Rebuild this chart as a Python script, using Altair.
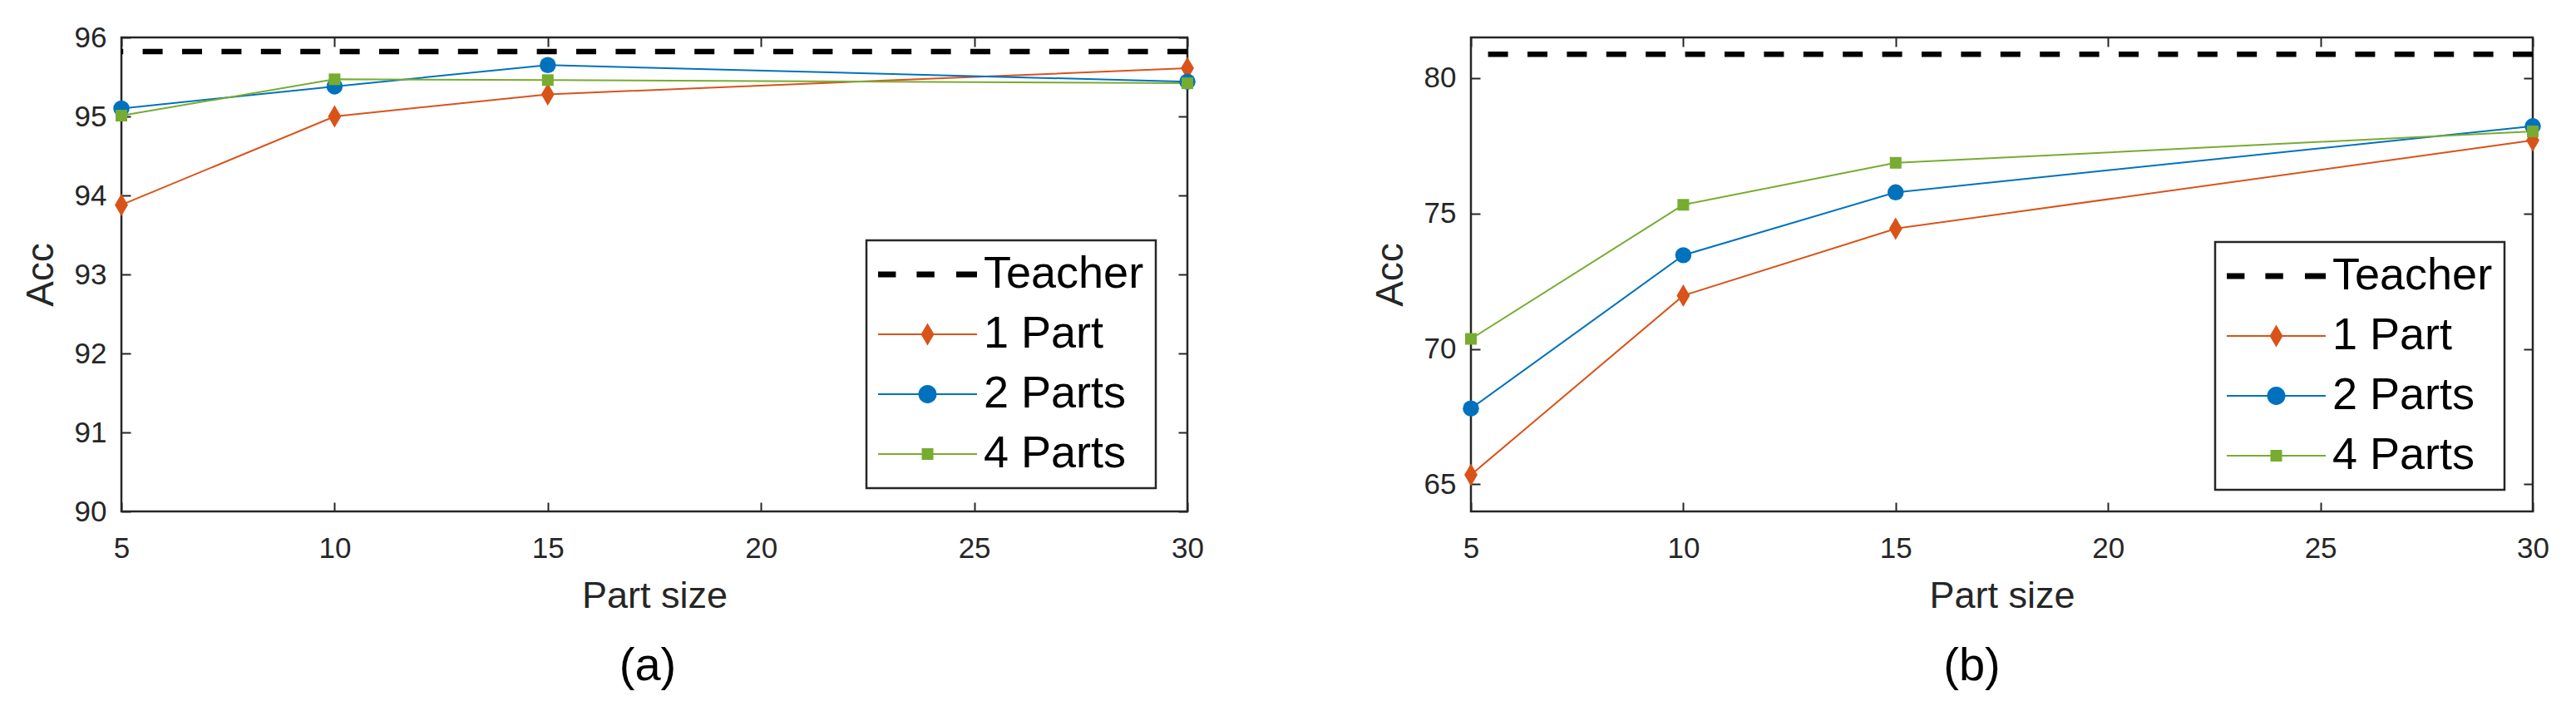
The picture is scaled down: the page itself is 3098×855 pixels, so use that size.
import altair as alt
import pandas as pd

# ---------------- data ----------------
part_sizes = [5, 10, 15, 30]
series_names = ["Teacher", "1 Part", "2 Parts", "4 Parts"]
series_colors = ["#000000", "#D95319", "#0072BD", "#77AC30"]
x_ticks = [5, 10, 15, 20, 25, 30]

a_teacher = 95.82
a_one = [93.88, 95.00, 95.28, 95.61]
a_two = [95.10, 95.38, 95.65, 95.44]
a_four = [95.01, 95.47, 95.46, 95.42]
a_y_domain = [90, 96]
a_y_ticks = [90, 91, 92, 93, 94, 95, 96]

b_teacher = 80.88
b_one = [65.35, 71.97, 74.44, 77.70]
b_two = [67.80, 73.46, 75.78, 78.22]
b_four = [70.37, 75.32, 76.87, 78.03]
b_y_domain = [64, 81.5]
b_y_ticks = [65, 70, 75, 80]

# ---------------- style ----------------
FONT = "Liberation Sans"
GRAY = "#262626"

DIAMOND = "M0,-1L0.59,0L0,1L-0.59,0Z"
# legend glyphs: unit = 27 px (symbol size 54^2); line drawn wider than the
# nominal symbol box, marker centred on the line
LINE = "M-1,-0.037H3.407V0.037H-1Z"
legend_shapes = [
    "M-1,-0.13H-0.207V0.13H-1Z M0.719,-0.13H1.511V0.13H0.719Z M2.481,-0.13H3.407V0.13H2.481Z",
    LINE + " M1.204,-0.5L1.5,0L1.204,0.5L0.908,0Z",
    LINE + " M1.611,0A0.407,0.407,0,1,1,0.797,0A0.407,0.407,0,1,1,1.611,0Z",
    LINE + " M0.945,-0.259H1.463V0.259H0.945Z",
]


def tick_axis(values, orient, offset):
    return alt.Axis(values=values, orient=orient, offset=offset, labels=False,
                    domain=False, grid=False, ticks=True, tickSize=11,
                    tickWidth=2, tickColor=GRAY, title=None)


def panel(teacher, one, two, four, y_domain, y_ticks, W, H, leg_x, leg_y,
          caption, cap_dx):
    rows = []
    for name, vals in zip(series_names[1:], [one, two, four]):
        for s, v in zip(part_sizes, vals):
            rows.append({"series": name, "size": s, "acc": v})
    df = pd.DataFrame(rows)
    tdf = pd.DataFrame({"series": ["Teacher"], "acc": [teacher]})
    ldf = pd.DataFrame({"series": series_names})

    xs = alt.Scale(domain=[5, 30], nice=False, zero=False)
    ys = alt.Scale(domain=y_domain, nice=False, zero=False)
    cs = alt.Scale(domain=series_names, range=series_colors)

    main_x = alt.Axis(values=x_ticks, orient="bottom", ticks=False, tickSize=0,
                      domain=False, grid=False, labelFontSize=35, labelFont=FONT,
                      labelColor=GRAY, labelPadding=27, labelFlush=False,
                      labelOverlap=False, title="Part size", titleFont=FONT,
                      titleFontSize=45, titleFontWeight="normal",
                      titleColor=GRAY, titlePadding=17)
    main_y = alt.Axis(values=y_ticks, orient="left", ticks=False, tickSize=0,
                      domain=False, grid=False, labelFontSize=35, labelFont=FONT,
                      labelColor=GRAY, labelPadding=18, labelFlush=False,
                      labelOverlap=False, title="Acc", titleFont=FONT,
                      titleFontSize=46, titleFontWeight="normal",
                      titleColor=GRAY, titlePadding=16)

    leg = alt.Legend(title=None, orient="none", legendX=leg_x, legendY=leg_y,
                     direction="vertical", labelFontSize=54, labelFont=FONT,
                     labelColor="black", symbolSize=2916, symbolStrokeWidth=0,
                     labelLimit=600, labelOffset=73, rowPadding=18, padding=14,
                     strokeColor=GRAY, fillColor="white")

    # helper layer that only carries the legend (its marks are clipped away);
    # placed first so its explicit legend settings win the merge
    legend_layer = alt.Chart(ldf).mark_point(filled=True, opacity=1, clip=True).encode(
        x=alt.value(-3000),
        y=alt.value(-3000),
        color=alt.Color("series:N", scale=cs, legend=leg),
        shape=alt.Shape("series:N",
                        scale=alt.Scale(domain=series_names, range=legend_shapes),
                        legend=leg),
    )

    teacher_rule = alt.Chart(tdf).mark_rule(
        color="black", strokeWidth=6.5, strokeDash=[24, 23.4]
    ).encode(y=alt.Y("acc:Q", scale=ys, axis=tick_axis(y_ticks, "left", -W)))

    lines = alt.Chart(df).mark_line(strokeWidth=2).encode(
        x=alt.X("size:Q", scale=xs, axis=main_x),
        y=alt.Y("acc:Q", scale=ys, axis=main_y),
        color=alt.Color("series:N", scale=cs, legend=None),
    )

    pts1 = alt.Chart(df).transform_filter(alt.datum.series == "1 Part").mark_point(
        filled=True, shape=DIAMOND, size=729, opacity=1
    ).encode(
        x=alt.X("size:Q", scale=xs, axis=tick_axis(x_ticks, "top", -H)),
        y=alt.Y("acc:Q", scale=ys, axis=tick_axis(y_ticks, "right", -W)),
        color=alt.Color("series:N", scale=cs, legend=None),
    )
    pts2 = alt.Chart(df).transform_filter(alt.datum.series == "2 Parts").mark_point(
        filled=True, shape="circle", size=380, opacity=1
    ).encode(
        x=alt.X("size:Q", scale=xs, axis=tick_axis(x_ticks, "bottom", -H)),
        y=alt.Y("acc:Q", scale=ys, axis=None),
        color=alt.Color("series:N", scale=cs, legend=None),
    )
    pts4 = alt.Chart(df).transform_filter(alt.datum.series == "4 Parts").mark_point(
        filled=True, shape="square", size=196, opacity=1
    ).encode(
        x=alt.X("size:Q", scale=xs, axis=None),
        y=alt.Y("acc:Q", scale=ys, axis=None),
        color=alt.Color("series:N", scale=cs, legend=None),
    )

    return alt.layer(
        legend_layer, teacher_rule, lines, pts1, pts2, pts4
    ).resolve_axis(x="independent", y="independent").properties(
        width=W, height=H,
        title=alt.TitleParams(caption, orient="bottom", frame="group",
                              fontSize=56, font=FONT, fontWeight="normal",
                              color="black", offset=35, dx=cap_dx),
    )


pa = panel(a_teacher, a_one, a_two, a_four, a_y_domain, a_y_ticks,
           1282, 570, 896, 244, "(a)", -8)
pb = panel(b_teacher, b_one, b_two, b_four, b_y_domain, b_y_ticks,
           1277, 570, 895, 246, "(b)", -36)

chart = alt.hconcat(pa, pb, spacing=341, bounds="flush").resolve_scale(
    color="independent", shape="independent"
).properties(
    padding={"left": 16, "top": 18, "right": 5, "bottom": 5}
).configure_view(
    stroke=GRAY, strokeWidth=2.5
).configure_legend(strokeWidth=2.5)

chart.save("out.html", embed_options={"renderer": "svg", "actions": False})
